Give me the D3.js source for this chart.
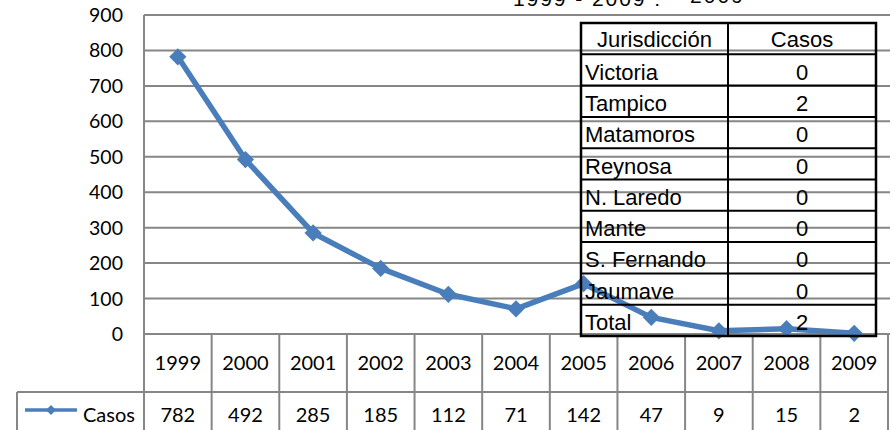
<!DOCTYPE html>
<meta charset="utf-8">
<style>
    html,
    body {
        margin: 0;
        padding: 0;
        background: #fff;
    }

    .lbl {
        font-family: Lato, "Open Sans", sans-serif;
        font-size: 20px;
        fill: #000;
    }

    .jur text {
        font-family: "Liberation Sans", Arial, sans-serif;
        font-size: 22px;
        fill: #000;
    }
</style>
<svg id="canvas" width="895" height="430"></svg>
<script src="https://d3js.org/d3.v7.min.js"></script>
<script>
    // chart values
    var years = ["1999", "2000", "2001", "2002", "2003", "2004", "2005", "2006", "2007", "2008", "2009"];
    var casos = [782, 492, 285, 185, 112, 71, 142, 47, 9, 15, 2];
    var yTicks = [0, 100, 200, 300, 400, 500, 600, 700, 800, 900];
    var seriesName = "Casos";

    // overlay table
    var tableHeader = ["Jurisdicción", "Casos"];
    var jurisdicciones = ["Victoria", "Tampico", "Matamoros", "Reynosa", "N. Laredo", "Mante", "S. Fernando", "Jaumave", "Total"];
    var casosJur = [0, 2, 0, 0, 0, 0, 0, 0, 2];

    // title, cut off at the top like in the source
    var titleParts = ["1999 - 2009 :", "2009"];

    var svg = d3.select("svg");
    var gridColor = "#868686";
    var blue = "#4a7ebb";

    var x = d3.scaleBand().domain(years).range([144, 888]);
    var y = d3.scaleLinear().domain([0, 900]).range([334, 15]);

    // title fragments
    svg.append("text")
        .attr("x", 513).attr("y", 6)
        .attr("textLength", 147)
        .style("font-family", "'Liberation Sans', Arial, sans-serif")
        .style("font-size", "21px")
        .text(titleParts[0]);
    svg.append("text")
        .attr("x", 690).attr("y", 3)
        .attr("textLength", 53)
        .style("font-family", "'Liberation Sans', Arial, sans-serif")
        .style("font-size", "21px")
        .text(titleParts[1]);

    // gridlines
    svg.append("g")
        .selectAll("line")
        .data(yTicks)
        .enter().append("line")
        .attr("x1", x.range()[0]).attr("x2", x.range()[1] + 2)
        .attr("y1", d => y(d)).attr("y2", d => y(d))
        .attr("stroke", gridColor)
        .attr("stroke-width", 2);

    // y axis labels
    svg.append("g")
        .selectAll("text")
        .data(yTicks)
        .enter().append("text")
        .attr("class", "lbl")
        .attr("x", 123)
        .attr("y", d => y(d))
        .attr("dy", "0.36em")
        .attr("text-anchor", "end")
        .style("font-size", "19.5px")
        .text(d => d);

    // data table under the axis
    var row1 = y(0), row2 = 392;
    var tbl = svg.append("g").attr("stroke", gridColor).attr("stroke-width", 2);
    tbl.append("line").attr("x1", x.range()[0]).attr("x2", x.range()[0]).attr("y1", y(900)).attr("y2", 430);
    tbl.selectAll("line.v")
        .data(years)
        .enter().append("line")
        .attr("class", "v")
        .attr("x1", d => x(d) + x.bandwidth()).attr("x2", d => x(d) + x.bandwidth())
        .attr("y1", row1).attr("y2", 430);
    tbl.append("line").attr("x1", 17).attr("x2", x.range()[1]).attr("y1", row2).attr("y2", row2);
    tbl.append("line").attr("x1", 17).attr("x2", 17).attr("y1", row2).attr("y2", 430);

    svg.append("g")
        .selectAll("text")
        .data(years)
        .enter().append("text")
        .attr("class", "lbl")
        .attr("x", d => x(d) + x.bandwidth() / 2)
        .attr("y", (row1 + row2) / 2)
        .attr("dy", "0.36em")
        .attr("text-anchor", "middle")
        .text(d => d);

    svg.append("g")
        .selectAll("text")
        .data(casos)
        .enter().append("text")
        .attr("class", "lbl")
        .attr("x", (d, i) => x(years[i]) + x.bandwidth() / 2)
        .attr("y", 415)
        .attr("dy", "0.36em")
        .attr("text-anchor", "middle")
        .text(d => d);

    // legend key
    var diamond = d3.symbol().type(d3.symbolDiamond2);
    svg.append("line")
        .attr("x1", 25).attr("x2", 77).attr("y1", 410).attr("y2", 410)
        .attr("stroke", blue).attr("stroke-width", 3.5);
    svg.append("path")
        .attr("d", diamond.size(64)())
        .attr("transform", "translate(51,410)")
        .attr("fill", blue);
    svg.append("text")
        .attr("class", "lbl")
        .attr("x", 83).attr("y", 415)
        .attr("dy", "0.36em")
        .text(seriesName);

    // series line
    var line = d3.line()
        .x((d, i) => x(years[i]) + x.bandwidth() / 2)
        .y(d => y(d));
    svg.append("path")
        .datum(casos)
        .attr("d", line)
        .attr("fill", "none")
        .attr("stroke", blue)
        .attr("stroke-width", 5.5)
        .attr("stroke-linejoin", "round");
    svg.append("g")
        .selectAll("path")
        .data(casos)
        .enter().append("path")
        .attr("d", diamond.size(190)())
        .attr("transform", (d, i) => "translate(" + (x(years[i]) + x.bandwidth() / 2) + "," + y(d) + ")")
        .attr("fill", blue);

    // jurisdiccion table on top
    var rows = d3.scaleBand().domain(["_h"].concat(jurisdicciones)).range([23, 336]);
    var colX = [581, 728, 876];
    var jur = svg.append("g").attr("class", "jur");

    jur.selectAll("line.h")
        .data(rows.domain().slice(1))
        .enter().append("line")
        .attr("class", "h")
        .attr("x1", colX[0]).attr("x2", colX[2])
        .attr("y1", d => rows(d)).attr("y2", d => rows(d))
        .attr("stroke", "#000").attr("stroke-width", 2);
    jur.append("line")
        .attr("x1", colX[1]).attr("x2", colX[1])
        .attr("y1", rows.range()[0]).attr("y2", rows.range()[1])
        .attr("stroke", "#000").attr("stroke-width", 2);
    jur.append("rect")
        .attr("x", colX[0]).attr("y", rows.range()[0])
        .attr("width", colX[2] - colX[0]).attr("height", rows.range()[1] - rows.range()[0])
        .attr("fill", "none").attr("stroke", "#000").attr("stroke-width", 2.5);

    jur.selectAll("text.hd")
        .data(tableHeader)
        .enter().append("text")
        .attr("class", "hd")
        .attr("x", (d, i) => (colX[i] + colX[i + 1]) / 2)
        .attr("y", rows("_h") + rows.bandwidth() - 7)
        .attr("text-anchor", "middle")
        .text(d => d);

    jur.selectAll("text.nm")
        .data(jurisdicciones)
        .enter().append("text")
        .attr("class", "nm")
        .attr("x", colX[0] + 4)
        .attr("y", d => rows(d) + rows.bandwidth() - 6)
        .text(d => d);

    jur.selectAll("text.val")
        .data(casosJur)
        .enter().append("text")
        .attr("class", "val")
        .attr("x", (colX[1] + colX[2]) / 2)
        .attr("y", (d, i) => rows(jurisdicciones[i]) + rows.bandwidth() - 6)
        .attr("text-anchor", "middle")
        .text(d => d);
</script>
